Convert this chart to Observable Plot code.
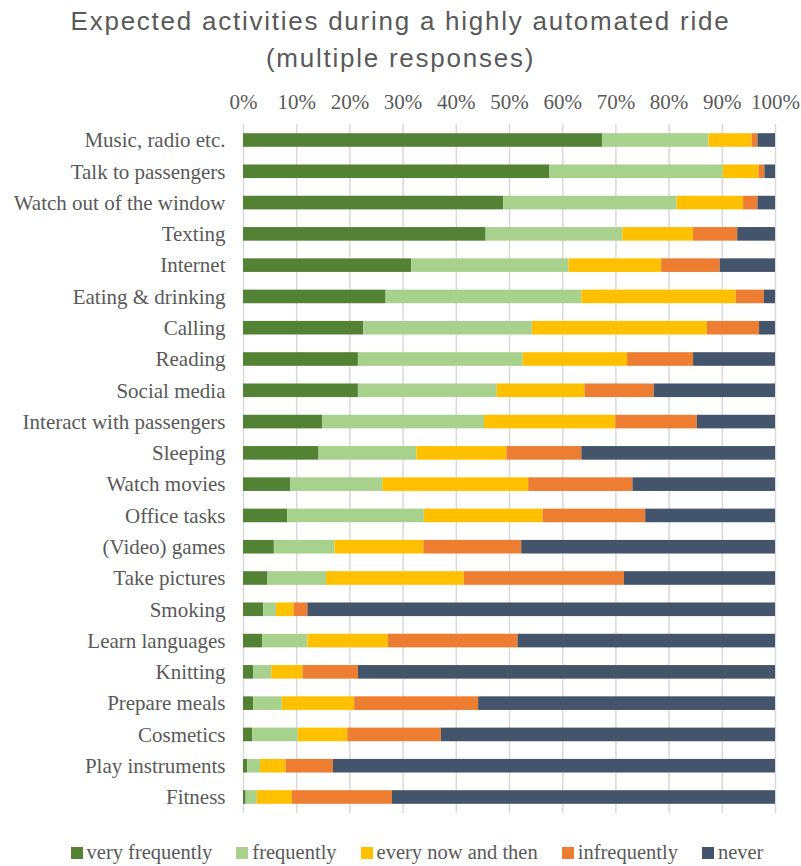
<!DOCTYPE html>
<html>
<head>
<meta charset="utf-8">
<script src="https://cdn.jsdelivr.net/npm/d3@7"></script>
<script src="https://cdn.jsdelivr.net/npm/@observablehq/plot@0.6"></script>
<style>
  body { margin: 0; background: #fff; width: 801px; }
  #title { height: 80px; text-align: center; font-family: "Liberation Sans", Arial, sans-serif; font-size: 26px; letter-spacing: 1.75px; color: #595959; line-height: 37px; padding-top: 3px; box-sizing: border-box; }
  #legend { display: flex; justify-content: center; gap: 24px; margin-top: 11px; font-family: "Liberation Serif", "Times New Roman", serif; font-size: 20.5px; color: #595959; padding-left: 33px; }
  #legend .item { display: flex; align-items: center; }
  #legend .sw { width: 12px; height: 12px; margin-right: 4px; }
</style>
</head>
<body>
<div id="title">Expected activities during a highly automated ride<br>(multiple responses)</div>
<div id="chart"></div>
<div id="legend"></div>
<script>
const activities = ["Music, radio etc.", "Talk to passengers", "Watch out of the window", "Texting", "Internet", "Eating & drinking", "Calling", "Reading", "Social media", "Interact with passengers", "Sleeping", "Watch movies", "Office tasks", "(Video) games", "Take pictures", "Smoking", "Learn languages", "Knitting", "Prepare meals", "Cosmetics", "Play instruments", "Fitness"];
const levels = ["very frequently", "frequently", "every now and then", "infrequently", "never"];
const colors = ["#548235", "#A9D18E", "#FFC000", "#ED7D31", "#44546A"];
const veryFrequently = [67.5, 57.6, 48.9, 45.6, 31.6, 26.8, 22.6, 21.6, 21.6, 14.9, 14.2, 8.9, 8.3, 5.8, 4.6, 3.8, 3.6, 1.9, 1.9, 1.7, 0.8, 0.5];
const frequently     = [20.0, 32.6, 32.6, 25.7, 29.6, 36.8, 31.7, 31.0, 26.1, 30.4, 18.4, 17.3, 25.7, 11.4, 11.0, 2.4, 8.5, 3.4, 5.4, 8.6, 2.4, 2.1];
const everyNowThen   = [8.1, 6.7, 12.5, 13.3, 17.4, 29.0, 32.9, 19.6, 16.5, 24.7, 16.9, 27.4, 22.3, 16.7, 25.9, 3.3, 15.1, 5.9, 13.6, 9.3, 4.8, 6.6];
const infrequently   = [1.1, 1.1, 2.7, 8.3, 11.0, 5.3, 9.8, 12.4, 13.0, 15.3, 14.1, 19.6, 19.3, 18.4, 30.1, 2.6, 24.4, 10.4, 23.3, 17.6, 8.9, 18.8];
const never          = [3.3, 2.0, 3.3, 7.1, 10.4, 2.1, 3.0, 15.4, 22.8, 14.7, 36.4, 26.8, 24.4, 47.7, 28.4, 87.9, 48.4, 78.4, 55.8, 62.8, 83.1, 72.0];
const xTicks = [0, 10, 20, 30, 40, 50, 60, 70, 80, 90, 100];

const series = [veryFrequently, frequently, everyNowThen, infrequently, never];
const data = [];
activities.forEach((a, i) => {
  series.forEach((s, j) => data.push({activity: a, level: levels[j], value: s[i]}));
});

const serif = '"Liberation Serif", "Times New Roman", serif';
const chart = Plot.plot({
  width: 801,
  height: 750,
  marginLeft: 243,
  marginRight: 26,
  marginTop: 44,
  marginBottom: 17,
  style: {fontFamily: serif, fontSize: "21px", color: "#595959", background: "#fff"},
  x: {domain: [0, 100], label: null},
  y: {domain: activities, paddingInner: 0.565, paddingOuter: 0.294, round: false, label: null},
  color: {domain: levels, range: colors},
  marks: [
    Plot.gridX(xTicks, {stroke: "#d9d9d9", strokeOpacity: 1, strokeWidth: 1.5}),
    Plot.barX(data, {x: "value", y: "activity", fill: "level", order: levels}),
    Plot.axisX(xTicks, {anchor: "top", tickSize: 0, tickPadding: 16, tickFormat: d => d + "%", fill: "#595959", fontSize: 21}),
    Plot.axisY({tickSize: 0, tickPadding: 18, fill: "#595959", fontSize: 21})
  ]
});
document.getElementById("chart").appendChild(chart);

const leg = document.getElementById("legend");
levels.forEach((l, i) => {
  const it = document.createElement("div");
  it.className = "item";
  it.innerHTML = `<span class="sw" style="background:${colors[i]}"></span><span>${l}</span>`;
  leg.appendChild(it);
});
</script>
</body>
</html>
